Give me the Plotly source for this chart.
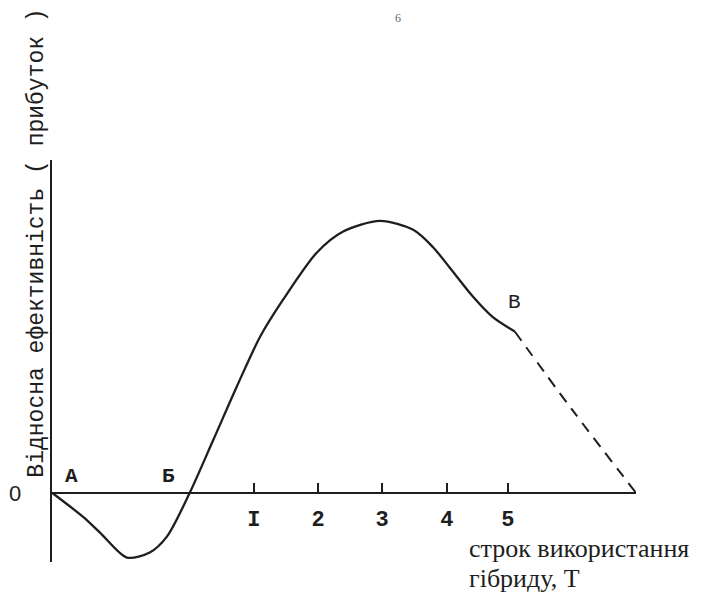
import plotly.graph_objects as go

# curve (x in tick-spacing units from the origin, y same scale)
curve_x = [0, 0.49, 0.76, 1.18, 1.54, 1.81, 2.17, 2.54, 2.91, 3.28, 3.64,
           4.17, 4.58, 5.17, 5.69, 6.00, 6.27, 6.63, 6.94, 7.29]
curve_y = [0, -0.38, -0.63, -1.02, -0.94, -0.69, 0, 0.83, 1.67, 2.46, 3.04,
           3.78, 4.11, 4.28, 4.14, 3.87, 3.54, 3.09, 2.77, 2.54]

# forecast part (dashed) from point B down to the axis
tail_x = [7.29, 8.20, 9.20]
tail_y = [2.54, 1.30, 0]

tick_pos = [3.18, 4.19, 5.20, 6.22, 7.18]
tick_text = ["I", "2", "3", "4", "5"]

point_names = ["A", "Б", "B"]
point_x = [0.31, 1.83, 7.28]
point_y = [0.25, 0.25, 2.99]

x_range = [0, 9.2]
y_range = [-1.09, 5.24]

ink = "#1e1e1e"
mono = "Liberation Mono, Courier New, monospace"
serif = "Liberation Serif, Times New Roman, serif"

fig = go.Figure()
fig.add_trace(go.Scatter(x=curve_x, y=curve_y, mode="lines",
                         line=dict(color=ink, width=2.3, shape="spline", smoothing=0.8),
                         hoverinfo="skip"))
fig.add_trace(go.Scatter(x=tail_x, y=tail_y, mode="lines",
                         line=dict(color=ink, width=2, dash="11px,8px", shape="spline"),
                         hoverinfo="skip"))

annotations = []
for name, px, py in zip(point_names, point_x, point_y):
    annotations.append(dict(x=px, y=py, xref="x", yref="y", text=name, showarrow=False,
                            font=dict(family=mono, size=21, color=ink,
                                      weight="bold" if name != "B" else "normal")))

annotations += [
    dict(x=-0.026, y=0.794, xref="paper", yref="paper", xanchor="center", yanchor="middle",
         text="Відносна ефективність ( прибуток )", textangle=-90, showarrow=False,
         font=dict(family=mono, size=23, color=ink)),
    dict(x=0.711, y=0.034, xref="paper", yref="paper", xanchor="left", yanchor="middle",
         text="строк використання", showarrow=False,
         font=dict(family=serif, size=26, color=ink)),
    dict(x=0.711, y=-0.040, xref="paper", yref="paper", xanchor="left", yanchor="middle",
         text="гібриду, Т", showarrow=False,
         font=dict(family=serif, size=26, color=ink)),
    dict(x=-0.063, y=-0.01, xref="paper", yref="y", xanchor="center", yanchor="middle",
         text="0", showarrow=False,
         font=dict(family="Liberation Sans, Arial, sans-serif", size=22, color=ink)),
    dict(x=0.592, y=1.375, xref="paper", yref="paper", text="6", showarrow=False,
         font=dict(family=serif, size=12, color="#666666")),
]

# the page body adds an 8px offset, so the plot box is placed 8px up and left
fig.update_layout(
    width=705, height=601,
    margin=dict(l=44, r=77, t=152, b=47),
    paper_bgcolor="white", plot_bgcolor="white",
    showlegend=False,
    annotations=annotations,
    xaxis=dict(range=x_range, anchor="free", automargin=False,
               position=(0 - y_range[0]) / (y_range[1] - y_range[0]),
               showline=True, linecolor=ink, linewidth=2,
               showgrid=False, zeroline=False,
               tickmode="array", tickvals=tick_pos, ticktext=tick_text,
               ticks="inside", ticklen=9, tickwidth=2, tickcolor=ink,
               ticklabelstandoff=6,
               tickfont=dict(family=mono, size=22, color=ink, weight="bold")),
    yaxis=dict(range=y_range, automargin=False, showline=True, linecolor=ink, linewidth=2,
               showgrid=False, zeroline=False, showticklabels=False, ticks=""),
)

fig.write_html("out.html")
